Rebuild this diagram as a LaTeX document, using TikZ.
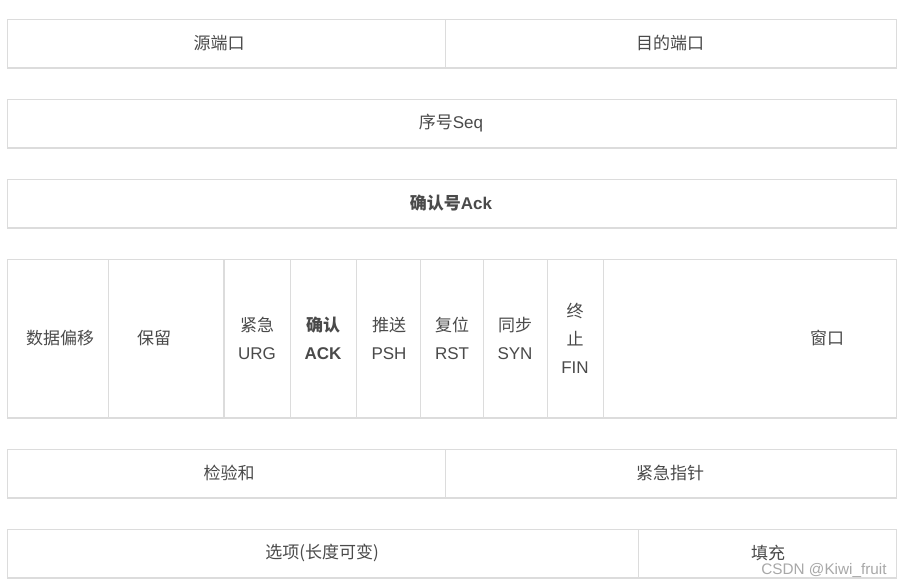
\documentclass[tikz,border=0pt]{standalone}
\usepackage{fontspec}
\setmainfont{Liberation Sans}
\newfontfamily\cjk{Noto Sans CJK SC}
\definecolor{cellline}{HTML}{DCDCDC}
\definecolor{celltext}{HTML}{4A4A4A}
\definecolor{markgray}{HTML}{A8A8A8}

\begin{document}
\begin{tikzpicture}[x=1pt, y=-1pt,
  grid/.style={draw=cellline, line width=1pt},
  foot/.style={draw=cellline, line width=2pt},
  label/.style={text=celltext, inner sep=0pt, align=center,
    font=\fontsize{17}{28}\selectfont}]
  \useasboundingbox[fill=white] (0,0) rectangle (901,587);

  % frames of the six rows
  \foreach \top/\bot in {19/68, 99/148, 179/228, 259/418, 449/498, 529/578} {
    \draw[grid] (7,\top) rectangle (896,\bot);
    \draw[foot] (7,\bot) -- (896,\bot);
  }
  \draw[grid] (445,19) -- (445,68);
  \draw[grid] (445,449) -- (445,498);
  \draw[grid] (638,529) -- (638,578);
  \foreach \x in {108, 290, 356, 420, 483, 547, 603}
    \draw[grid] (\x,259) -- (\x,418);
  \draw[foot] (224,259) -- (224,418);

  % texts
  \node[label] (srcport) at (219,43.5) {\cjk 源端口};
  \node[label] (dstport) at (670,43.5) {\cjk 目的端口};
  \node[label] (seq) at (451,123) {{\cjk 序号}Seq};
  \node[label, font=\fontsize{17}{28}\selectfont\bfseries] (ack) at (451,203) {{\cjk 确认号}Ack};

  \node[label] (offset) at (60,338) {\cjk 数据偏移};
  \node[label] (reserved) at (154,338) {\cjk 保留};
  \node[label] (urg) at (257,338) {{\cjk 紧急}\\URG};
  \node[label, font=\fontsize{17}{28}\selectfont\bfseries] (ackflag) at (323,338) {{\cjk 确认}\\ACK};
  \node[label] (psh) at (389,338) {{\cjk 推送}\\PSH};
  \node[label] (rst) at (452,338) {{\cjk 复位}\\RST};
  \node[label] (syn) at (515,338) {{\cjk 同步}\\SYN};
  \node[label] (fin) at (575,338) {{\cjk 终}\\{\cjk 止}\\FIN};
  \node[label] (window) at (827,338) {\cjk 窗口};

  \node[label] (checksum) at (229,473) {\cjk 检验和};
  \node[label] (urgptr) at (670,473) {\cjk 紧急指针};

  \node[label] (options) at (322,553) {\cjk 选项(长度可变)};
  \node[label] (padding) at (768,553) {\cjk 填充};
  \node[text=markgray, inner sep=0pt, font=\fontsize{15.3}{18}\selectfont] (mark) at (824,570) {CSDN @Kiwi\_fruit};
\end{tikzpicture}
\end{document}
